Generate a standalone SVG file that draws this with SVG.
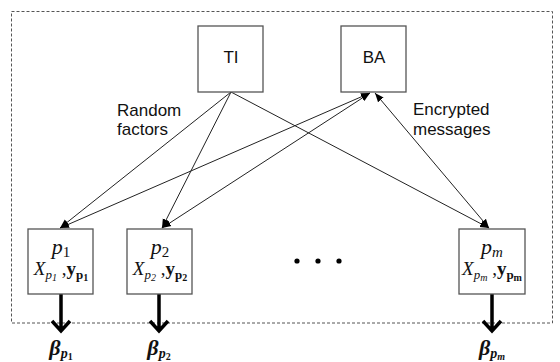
<svg xmlns="http://www.w3.org/2000/svg" width="560" height="362" viewBox="0 0 560 362">
<style>
.box{fill:#fff;stroke:#555;stroke-width:1.3}
.lbl{font-family:"Liberation Sans",Arial,sans-serif;font-size:17px;fill:#111}
.m{font-family:"Liberation Serif","Times New Roman",serif;fill:#111}
.ln{stroke:#222;stroke-width:1;fill:none}
.thick{stroke:#000;stroke-width:3.5;fill:none}
</style>
<defs>
<marker id="ah" viewBox="0 0 10 10" refX="10" refY="5" markerWidth="9" markerHeight="9" markerUnits="userSpaceOnUse" orient="auto-start-reverse">
<path d="M0,1 L10,5 L0,9 Z" fill="#000"/>
</marker>
</defs>
<rect x="11.5" y="11.5" width="541" height="311.5" fill="none" stroke="#555" stroke-width="1" stroke-dasharray="3,2"/>
<g id="connectors">
<line class="ln" x1="231" y1="92" x2="60" y2="228" marker-end="url(#ah)"/>
<line class="ln" x1="231" y1="92" x2="162" y2="228" marker-end="url(#ah)"/>
<line class="ln" x1="231" y1="92" x2="489" y2="228" marker-end="url(#ah)"/>
<line class="ln" x1="60" y1="228" x2="370" y2="93" marker-start="url(#ah)" marker-end="url(#ah)"/>
<line class="ln" x1="162" y1="228" x2="370" y2="93" marker-start="url(#ah)" marker-end="url(#ah)"/>
<line class="ln" x1="489" y1="228" x2="375" y2="93" marker-start="url(#ah)" marker-end="url(#ah)"/>
<path class="thick" d="M61,294 V331 M52,321 L61,331 L70,321"/>
<path class="thick" d="M159,294 V331 M150,321 L159,331 L168,321"/>
<path class="thick" d="M492,294 V331 M483,321 L492,331 L501,321"/>
</g>
<g id="TI">
<rect class="box" x="198" y="26" width="65" height="66"/>
<text class="lbl" x="231" y="63" text-anchor="middle">TI</text>
</g>
<g id="BA">
<rect class="box" x="341" y="26" width="65" height="66"/>
<text class="lbl" x="374" y="63" text-anchor="middle">BA</text>
</g>
<g id="label-random">
<text class="lbl" x="117" y="116">Random</text>
<text class="lbl" x="117" y="135">factors</text>
</g>
<g id="label-encrypted">
<text class="lbl" x="413" y="115">Encrypted</text>
<text class="lbl" x="413" y="135">messages</text>
</g>
<g id="p1">
<rect class="box" x="28" y="229" width="65" height="65"/>
<text class="m" x="61" y="254" text-anchor="middle" font-size="22"><tspan font-style="italic">p</tspan><tspan font-size="15" dy="3">1</tspan></text>
<text class="m" x="61" y="275" text-anchor="middle" font-size="19"><tspan font-style="italic">X</tspan><tspan font-style="italic" font-size="13" dy="4">p</tspan><tspan font-style="italic" font-size="10" dy="2">1</tspan><tspan dy="-6"> ,</tspan><tspan font-weight="bold">y</tspan><tspan font-weight="bold" font-size="13" dy="4">p</tspan><tspan font-weight="bold" font-size="10" dy="2">1</tspan></text>
</g>
<g id="p2">
<rect class="box" x="127" y="229" width="65" height="65"/>
<text class="m" x="160" y="254" text-anchor="middle" font-size="22"><tspan font-style="italic">p</tspan><tspan font-size="15" dy="3">2</tspan></text>
<text class="m" x="160" y="275" text-anchor="middle" font-size="19"><tspan font-style="italic">X</tspan><tspan font-style="italic" font-size="13" dy="4">p</tspan><tspan font-style="italic" font-size="10" dy="2">2</tspan><tspan dy="-6"> ,</tspan><tspan font-weight="bold">y</tspan><tspan font-weight="bold" font-size="13" dy="4">p</tspan><tspan font-weight="bold" font-size="10" dy="2">2</tspan></text>
</g>
<g id="pm">
<rect class="box" x="459" y="229" width="66" height="65"/>
<text class="m" x="492" y="254" text-anchor="middle" font-size="22"><tspan font-style="italic">p</tspan><tspan font-style="italic" font-size="15" dy="3">m</tspan></text>
<text class="m" x="492" y="275" text-anchor="middle" font-size="19"><tspan font-style="italic">X</tspan><tspan font-style="italic" font-size="13" dy="4">p</tspan><tspan font-style="italic" font-size="10" dy="2">m</tspan><tspan dy="-6"> ,</tspan><tspan font-weight="bold">y</tspan><tspan font-weight="bold" font-size="13" dy="4">p</tspan><tspan font-weight="bold" font-size="10" dy="2">m</tspan></text>
</g>
<g id="dots">
<circle cx="297" cy="261" r="2.6" fill="#000"/>
<circle cx="318" cy="261" r="2.6" fill="#000"/>
<circle cx="339" cy="261" r="2.6" fill="#000"/>
</g>
<g id="beta1">
<text class="m" x="61" y="355" text-anchor="middle" font-size="22" font-weight="bold" font-style="italic">β<tspan font-size="14" dy="3">p</tspan><tspan font-size="10" dy="2" font-style="normal">1</tspan></text>
</g>
<g id="beta2">
<text class="m" x="159" y="355" text-anchor="middle" font-size="22" font-weight="bold" font-style="italic">β<tspan font-size="14" dy="3">p</tspan><tspan font-size="10" dy="2" font-style="normal">2</tspan></text>
</g>
<g id="betam">
<text class="m" x="492" y="355" text-anchor="middle" font-size="22" font-weight="bold" font-style="italic">β<tspan font-size="14" dy="3">p</tspan><tspan font-size="10" dy="2">m</tspan></text>
</g>
</svg>
